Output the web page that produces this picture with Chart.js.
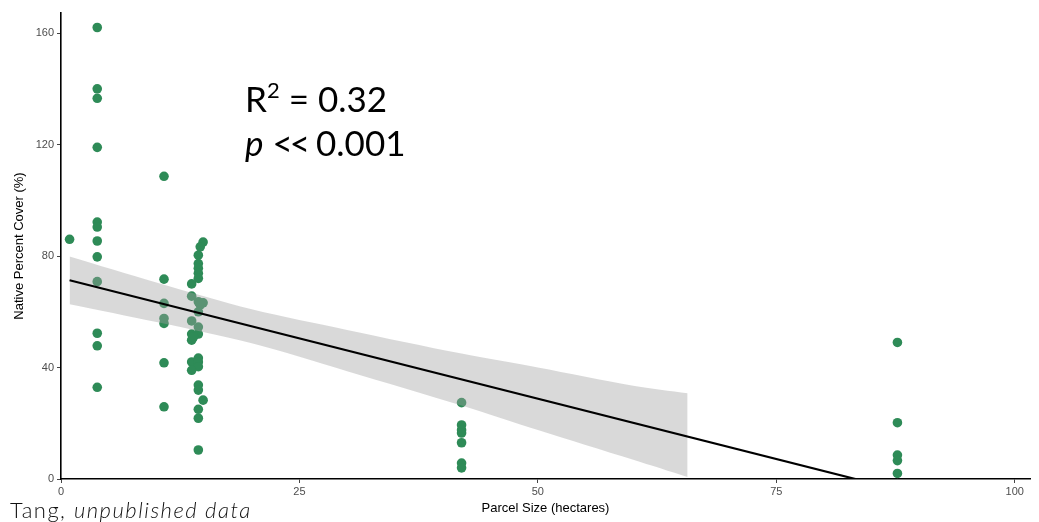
<!DOCTYPE html>
<html>
<head>
<meta charset="utf-8">
<script src="https://cdn.jsdelivr.net/npm/chart.js@4"></script>
<style>
  body { margin: 0; background: #fff; }
  #wrap { position: relative; width: 1039px; height: 522px; }
  .stat { position: absolute; left: 245px; font-family: Lato, "Open Sans", sans-serif; font-size: 35px; color: #000; line-height: 1; }
  .caption { position: absolute; left: 10px; top: 496px; font-family: Lato, sans-serif; font-weight: 300; font-size: 22px; letter-spacing: 1.5px; color: #111; }
</style>
</head>
<body>
<div id="wrap">
  <canvas id="scatterChart" width="1039" height="522"></canvas>
  <div class="stat" style="top:81px">R<sup style="font-size:22px;vertical-align:14px;line-height:0">2</sup> = 0.32</div>
  <div class="stat" style="top:125px"><i>p</i> <span style="letter-spacing:-3px">&lt;&lt;</span> 0.001</div>
  <div class="caption">Tang, <i>unpublished data</i></div>
</div>
<script>
// Observed parcels (x = parcel size in hectares, y = native percent cover)
const parcelSize = [
    0.9,
    3.8, 3.8, 3.8, 3.8, 3.8, 3.8, 3.8, 3.8, 3.8, 3.8, 3.8, 3.8,
    10.8, 10.8, 10.8, 10.8, 10.8, 10.8, 10.8,
    14.9, 14.6, 14.4, 14.4, 14.4, 14.4, 14.4, 13.7, 13.7, 14.4,
    14.9, 14.6, 14.4, 13.7, 14.4, 13.7, 14.4, 13.7, 13.9, 14.4,
    13.7, 14.4, 14.4, 13.7, 14.4, 14.4, 14.9, 14.4, 14.4, 14.4,
    42, 42, 42, 42, 42, 42, 42,
    87.7, 87.7, 87.7, 87.7, 87.7
];
const nativeCover = [
    86,
    162, 140, 136.6, 119, 92.2, 90.4, 85.4, 79.7, 70.8, 52.3, 47.8, 32.9,
    108.6, 71.7, 63, 57.6, 55.8, 41.7, 25.9,
    85, 83.3, 80.3, 77.3, 75.6, 73.8, 72, 70, 65.6, 63.6,
    63.2, 62.5, 60, 56.7, 54.5, 52, 52, 49.8, 51, 43.4,
    42, 42, 40.3, 39, 33.7, 31.9, 28.3, 25, 21.8, 10.4,
    27.4, 19.4, 17.6, 16.5, 13, 5.7, 4,
    49, 20.2, 8.6, 6.6, 2
];

// Fitted line and 95% confidence band
const fitX = [0.9, 83.3];
const fitY = [71.3, 0];
const bandX = [0.9, 10, 20, 30, 42, 50, 60, 65.7];
const bandUpper = [79.8, 70.5, 60.9, 53.5, 45.0, 40.0, 33.5, 30.8];
const bandLower = [62.7, 56.3, 48.7, 38.7, 26.4, 17.6, 6.9, 0.7];

const xTicks = [0, 25, 50, 75, 100];
const yTicks = [0, 40, 80, 120, 160];

const toPoints = (xs, ys) => xs.map((x, i) => ({ x: x, y: ys[i] }));

const axisStyle = {
    border: { display: true, color: '#000', width: 1.6 },
    grid: { drawOnChartArea: false, drawTicks: true, tickLength: 4, color: '#444', lineWidth: 1 }
};

const ctx = document.getElementById('scatterChart').getContext('2d');
new Chart(ctx, {
    type: 'scatter',
    data: {
        datasets: [
            {
                // regression line (drawn on top)
                type: 'line',
                data: toPoints(fitX, fitY),
                borderColor: '#000',
                borderWidth: 2.2,
                pointRadius: 0,
                fill: false
            },
            {
                type: 'line',
                data: toPoints(bandX, bandUpper),
                borderWidth: 0,
                pointRadius: 0,
                tension: 0.3,
                backgroundColor: 'rgba(160,160,160,0.4)',
                fill: '+1'
            },
            {
                type: 'line',
                data: toPoints(bandX, bandLower),
                borderWidth: 0,
                pointRadius: 0,
                tension: 0.3,
                fill: false
            },
            {
                data: toPoints(parcelSize, nativeCover),
                backgroundColor: '#2e8b57',
                borderWidth: 0,
                pointRadius: 4.8
            }
        ]
    },
    options: {
        responsive: false,
        animation: false,
        layout: { padding: { top: 13, right: 9, left: 0, bottom: 0 } },
        plugins: {
            legend: { display: false },
            tooltip: { enabled: false }
        },
        scales: {
            x: {
                type: 'linear',
                min: 0,
                max: 101.6,
                ...axisStyle,
                afterBuildTicks: (scale) => { scale.ticks = xTicks.map(v => ({ value: v })); },
                afterFit: (scale) => { scale.height = 43; },
                ticks: { color: '#4d4d4d', font: { family: '"Liberation Sans", Arial', size: 11 }, padding: 2 },
                title: {
                    display: true,
                    text: 'Parcel Size (hectares)',
                    color: '#000',
                    font: { family: '"Liberation Sans", Arial', size: 13 },
                    padding: { top: 0, bottom: 6 }
                }
            },
            y: {
                type: 'linear',
                min: 0,
                max: 167.2,
                ...axisStyle,
                afterBuildTicks: (scale) => { scale.ticks = yTicks.map(v => ({ value: v })); },
                afterFit: (scale) => { scale.width = 61; },
                ticks: { color: '#4d4d4d', font: { family: '"Liberation Sans", Arial', size: 11 }, padding: 3 },
                title: {
                    display: true,
                    text: 'Native Percent Cover (%)',
                    color: '#000',
                    font: { family: '"Liberation Sans", Arial', size: 13 },
                    padding: { top: 12, bottom: 0 }
                }
            }
        }
    }
});
</script>
</body>
</html>
